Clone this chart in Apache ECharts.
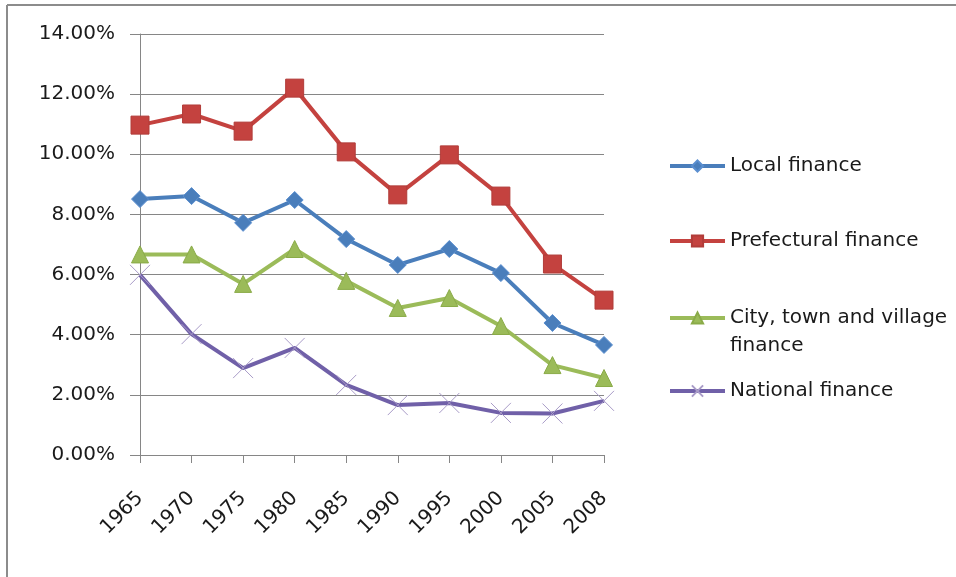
<!DOCTYPE html>
<html>
<head>
<meta charset="utf-8">
<script src="https://cdn.jsdelivr.net/npm/echarts@6/dist/echarts.min.js"></script>
<style>
  html, body { margin: 0; padding: 0; background: #fff; }
  #chart { width: 956px; height: 577px; }
</style>
</head>
<body>
<div id="chart"></div>
<script>
// data (percent)
const years = ['1965', '1970', '1975', '1980', '1985', '1990', '1995', '2000', '2005', '2008']
const localFinance = [8.51, 8.61, 7.72, 8.48, 7.18, 6.32, 6.85, 6.05, 4.39, 3.66]
const prefecturalFinance = [10.97, 11.34, 10.77, 12.2, 10.08, 8.65, 9.98, 8.61, 6.35, 5.15]
const cityFinance = [6.67, 6.67, 5.69, 6.85, 5.79, 4.89, 5.22, 4.29, 2.99, 2.56]
const nationalFinance = [5.99, 4.02, 2.89, 3.56, 2.33, 1.66, 1.73, 1.4, 1.38, 1.8]
const yTicks = { min: 0, max: 14, interval: 2 }

const font = '"DejaVu Sans", "Liberation Sans", sans-serif'
const crossIcon = 'path://M0,0L10,10M10,0L0,10'

const chart = echarts.init(document.getElementById('chart'))

const legendText = { fontFamily: font, fontSize: 20, color: '#1a1a1a', lineHeight: 28 }

function legendItem(name, top, extra) {
  return Object.assign({
    data: [name],
    orient: 'vertical',
    left: 668,
    top: top,
    padding: 0,
    itemWidth: 55,
    itemHeight: 14,
    itemGap: 0,
    lineStyle: { width: 4 },
    textStyle: legendText
  }, extra || {})
}

chart.setOption({
  animation: false,
  backgroundColor: '#fff',
  graphic: [
    // chart frame (only top and left edges show)
    { type: 'line', shape: { x1: 7, y1: 5, x2: 956, y2: 5 }, style: { stroke: '#8c8c8c', lineWidth: 2 } },
    { type: 'line', shape: { x1: 7, y1: 5, x2: 7, y2: 577 }, style: { stroke: '#8c8c8c', lineWidth: 2 } }
  ],
  legend: [
    legendItem('Local finance', 152),
    legendItem('Prefectural finance', 227),
    // two-line entry: blank first line keeps the icon beside the first line of text
    legendItem('City, town and village finance', 276, {
      formatter: '{s| }\n{a|City, town and village}\n{a|finance}',
      textStyle: Object.assign({}, legendText, {
        rich: {
          s: { fontFamily: font, fontSize: 20, lineHeight: 28 },
          a: { fontFamily: font, fontSize: 20, lineHeight: 28, color: '#1a1a1a' }
        }
      })
    }),
    legendItem('National finance', 377)
  ],
  grid: { left: 140, right: 352, top: 34, bottom: 122 },
  xAxis: {
    type: 'category',
    data: years,
    boundaryGap: false,
    axisLine: { lineStyle: { color: '#868686', width: 1 } },
    axisTick: { show: true, length: 8, alignWithLabel: true, lineStyle: { color: '#868686' } },
    axisLabel: { rotate: 45, fontFamily: font, fontSize: 20, color: '#1a1a1a', margin: 40 }
  },
  yAxis: {
    type: 'value',
    min: yTicks.min,
    max: yTicks.max,
    interval: yTicks.interval,
    axisLine: { show: true, lineStyle: { color: '#868686', width: 1 } },
    axisTick: { show: true, length: 10, lineStyle: { color: '#868686' } },
    splitLine: { lineStyle: { color: '#868686', width: 1 } },
    axisLabel: {
      fontFamily: font, fontSize: 20, color: '#1a1a1a', margin: 25,
      formatter: v => v.toFixed(2) + '%'
    }
  },
  series: [
    {
      name: 'Local finance',
      type: 'line',
      data: localFinance,
      symbol: 'diamond',
      symbolSize: 17,
      lineStyle: { width: 4, color: '#4a7ebb' },
      itemStyle: { color: '#4a7ebb', borderColor: '#5b8fd0', borderWidth: 1 }
    },
    {
      name: 'Prefectural finance',
      type: 'line',
      data: prefecturalFinance,
      symbol: 'rect',
      symbolSize: 18,
      lineStyle: { width: 4, color: '#c4423f' },
      itemStyle: { color: '#c4423f', borderColor: '#b13c39', borderWidth: 1 }
    },
    {
      name: 'City, town and village finance',
      type: 'line',
      data: cityFinance,
      symbol: 'triangle',
      symbolSize: 17,
      lineStyle: { width: 4, color: '#9bbb59' },
      itemStyle: { color: '#9bbb59', borderColor: '#8aab48', borderWidth: 1 }
    },
    {
      name: 'National finance',
      type: 'line',
      data: nationalFinance,
      symbol: crossIcon,
      symbolSize: 20,
      lineStyle: { width: 4, color: '#7060a8' },
      itemStyle: { color: '#7060a8', borderColor: '#a99cc8', borderWidth: 1 }
    }
  ]
})
</script>
</body>
</html>
